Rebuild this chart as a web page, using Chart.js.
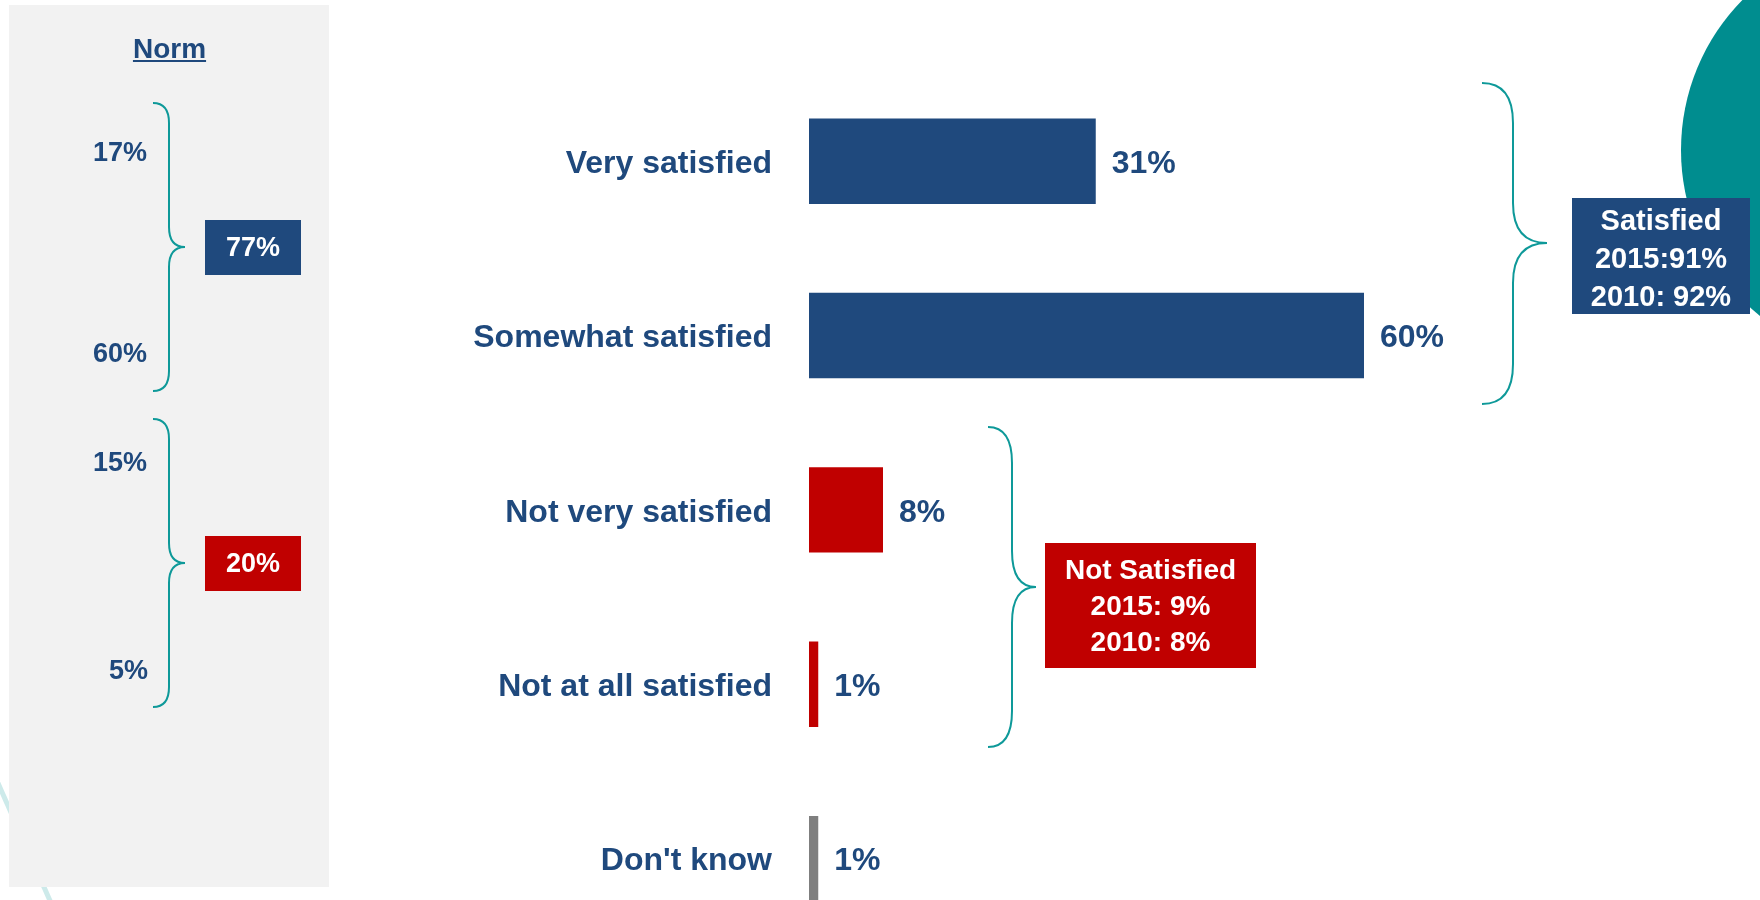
<!DOCTYPE html>
<html lang="en">
<head>
<meta charset="utf-8">
<title>Satisfaction</title>
<style>
  html, body { margin: 0; padding: 0; overflow: hidden; background: #fff; }
  #wrap { position: relative; width: 1760px; height: 900px; overflow: hidden; }
  #chart { position: absolute; left: 0; top: 0; }
</style>
</head>
<body>
<div id="wrap"><canvas id="chart" width="1760" height="1002"></canvas></div>
<script src="https://cdn.jsdelivr.net/npm/chart.js"></script>
<script>
const categories = ['Very satisfied', 'Somewhat satisfied', 'Not very satisfied', 'Not at all satisfied', "Don't know"];
const values = [31, 60, 8, 1, 1];
const barColors = ['#1F497D', '#1F497D', '#C00000', '#C00000', '#7F7F7F'];

// norm column: the two parts and their total
const normSatisfied = [17, 60];
const normSatisfiedTotal = 77;
const normNotSatisfied = [15, 5];
const normNotSatisfiedTotal = 20;

const satisfiedBox = ['Satisfied', '2015:91%', '2010: 92%'];
const notSatisfiedBox = ['Not Satisfied', '2015: 9%', '2010: 8%'];

const NAVY = '#1F497D';
const RED = '#C00000';
const TEAL = '#0E9999';
const FONT = "'Liberation Sans', Arial, sans-serif";

function brace(ctx, x0, x1, x2, yTop, yMid, yBot, r) {
    ctx.beginPath();
    ctx.moveTo(x0, yTop);
    ctx.quadraticCurveTo(x1, yTop, x1, yTop + r);
    ctx.lineTo(x1, yMid - r);
    ctx.quadraticCurveTo(x1, yMid, x2, yMid);
    ctx.quadraticCurveTo(x1, yMid, x1, yMid + r);
    ctx.lineTo(x1, yBot - r);
    ctx.quadraticCurveTo(x1, yBot, x0, yBot);
    ctx.stroke();
}

function box(ctx, x, y, w, h, fill, lines, gap, size, dy) {
    ctx.fillStyle = fill;
    ctx.fillRect(x, y, w, h);
    ctx.fillStyle = '#fff';
    ctx.font = 'bold ' + size + 'px ' + FONT;
    ctx.textAlign = 'center';
    ctx.textBaseline = 'middle';
    const cy = y + h / 2 + dy;
    lines.forEach((t, i) => ctx.fillText(t, x + w / 2, cy + (i - (lines.length - 1) / 2) * gap));
}

const decor = {
    id: 'decor',
    beforeDraw(chart) {
        const ctx = chart.ctx;
        ctx.save();
        ctx.fillStyle = '#fff';
        ctx.fillRect(0, 0, chart.width, chart.height);

        // teal circle top right
        ctx.fillStyle = '#008D8F';
        ctx.beginPath();
        ctx.arc(1895, 150, 214, 0, Math.PI * 2);
        ctx.fill();

        // faint line behind the norm panel
        ctx.strokeStyle = '#CDEAEA';
        ctx.lineWidth = 5;
        ctx.beginPath();
        ctx.moveTo(-10, 765);
        ctx.lineTo(55, 912);
        ctx.stroke();

        // norm panel
        ctx.fillStyle = '#F2F2F2';
        ctx.fillRect(9, 5, 320, 882);

        ctx.fillStyle = NAVY;
        ctx.font = 'bold 28px ' + FONT;
        ctx.textAlign = 'center';
        ctx.textBaseline = 'alphabetic';
        ctx.fillText('Norm', 169.5, 58);
        const tw = ctx.measureText('Norm').width;
        ctx.fillRect(169.5 - tw / 2, 60, tw, 2);

        ctx.font = 'bold 27px ' + FONT;
        ctx.textAlign = 'right';
        ctx.textBaseline = 'middle';
        ctx.fillText(normSatisfied[0] + '%', 147, 154);
        ctx.fillText(normSatisfied[1] + '%', 147, 355);
        ctx.fillText(normNotSatisfied[0] + '%', 147, 464);
        ctx.fillText(normNotSatisfied[1] + '%', 148, 672);

        ctx.strokeStyle = TEAL;
        ctx.lineWidth = 2;
        brace(ctx, 153, 169, 185, 103, 247, 391, 20);
        brace(ctx, 153, 169, 185, 419, 563, 707, 20);
        box(ctx, 205, 220, 96, 55, NAVY, [normSatisfiedTotal + '%'], 0, 27, 1);
        box(ctx, 205, 536, 96, 55, RED, [normNotSatisfiedTotal + '%'], 0, 27, 1);

        // group totals on the right
        ctx.strokeStyle = TEAL;
        ctx.lineWidth = 2;
        brace(ctx, 1482, 1513, 1547, 83, 243, 404, 40);
        brace(ctx, 988, 1012, 1036, 427, 587, 747, 36);
        box(ctx, 1572, 198, 178, 116, NAVY, satisfiedBox, 38, 29, 4);
        box(ctx, 1045, 543, 211, 125, RED, notSatisfiedBox, 36, 28, 2);
        ctx.restore();
    },
    afterDatasetsDraw(chart) {
        const ctx = chart.ctx;
        const meta = chart.getDatasetMeta(0);
        ctx.save();
        ctx.fillStyle = NAVY;
        ctx.font = 'bold 32px ' + FONT;
        ctx.textAlign = 'left';
        ctx.textBaseline = 'middle';
        meta.data.forEach((bar, i) => {
            ctx.fillText(values[i] + '%', bar.x + 16, bar.y + 3);
        });
        ctx.restore();
    }
};

new Chart(document.getElementById('chart'), {
    type: 'bar',
    data: {
        labels: categories,
        datasets: [{
            data: values,
            backgroundColor: barColors,
            barPercentage: 0.49,
            categoryPercentage: 1
        }]
    },
    options: {
        indexAxis: 'y',
        responsive: false,
        animation: false,
        layout: { padding: { top: 74, bottom: 14, right: 26, left: 0 } },
        plugins: {
            legend: { display: false },
            tooltip: { enabled: false }
        },
        scales: {
            x: { min: 0, max: 100, display: false },
            y: {
                grid: { display: false, drawTicks: false },
                border: { display: false },
                ticks: {
                    color: NAVY,
                    padding: 37,
                    labelOffset: 3,
                    font: { family: FONT, size: 32, weight: 'bold' }
                },
                afterFit: (scale) => { scale.width = 809; }
            }
        }
    },
    plugins: [decor]
});
</script>
</body>
</html>
